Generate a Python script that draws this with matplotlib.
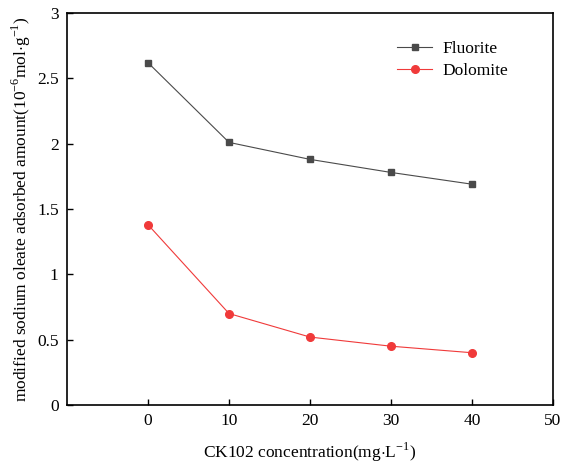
import matplotlib.pyplot as plt

# concentrations (mg/L) and adsorbed amounts (10^-6 mol/g)
conc = [0, 10, 20, 30, 40]
fluorite = [2.62, 2.01, 1.88, 1.78, 1.69]
dolomite = [1.38, 0.70, 0.52, 0.45, 0.40]

plt.rcParams['font.family'] = ['Liberation Serif', 'DejaVu Serif']
plt.rcParams['mathtext.fontset'] = 'custom'
plt.rcParams['mathtext.rm'] = 'Liberation Serif'
plt.rcParams['axes.unicode_minus'] = False

fig = plt.figure(figsize=(5.65, 4.66), dpi=100)
ax = fig.add_axes([0.1186, 0.1309, 0.8602, 0.8411])

ax.plot(conc, fluorite, color='#4a4a4a', lw=0.8, marker='s', ms=5,
        mfc='#4a4a4a', mec='#4a4a4a', label='Fluorite')
ax.plot(conc, dolomite, color='#f03a3a', lw=0.8, marker='o', ms=5.5,
        mfc='#f03a3a', mec='#f03a3a', label='Dolomite')

ax.set_xlim(-10, 50)
ax.set_ylim(0, 3)
ax.set_xticks([0, 10, 20, 30, 40, 50])
ax.set_yticks([0, 0.5, 1, 1.5, 2, 2.5, 3])
ax.set_yticklabels(['0', '0.5', '1', '1.5', '2', '2.5', '3'])
ax.tick_params(direction='in', labelsize=12.5, length=4, width=1, pad=6)
for s in ax.spines.values():
    s.set_linewidth(1.2)

ax.set_xlabel(r'CK102 concentration(mg$\cdot$L$^{\mathrm{-1}}$)', fontsize=12.5, labelpad=8)
ax.set_ylabel(r'modified sodium oleate adsorbed amount(10$^{\mathrm{-6}}$mol$\cdot$g$^{\mathrm{-1}}$)',
              fontsize=12.5, labelpad=3)

ax.legend(loc='upper right', bbox_to_anchor=(0.94, 0.968), frameon=False, fontsize=12.5,
          handlelength=2, labelspacing=0.3, handletextpad=0.6)

fig.savefig('out.png', dpi=100)
